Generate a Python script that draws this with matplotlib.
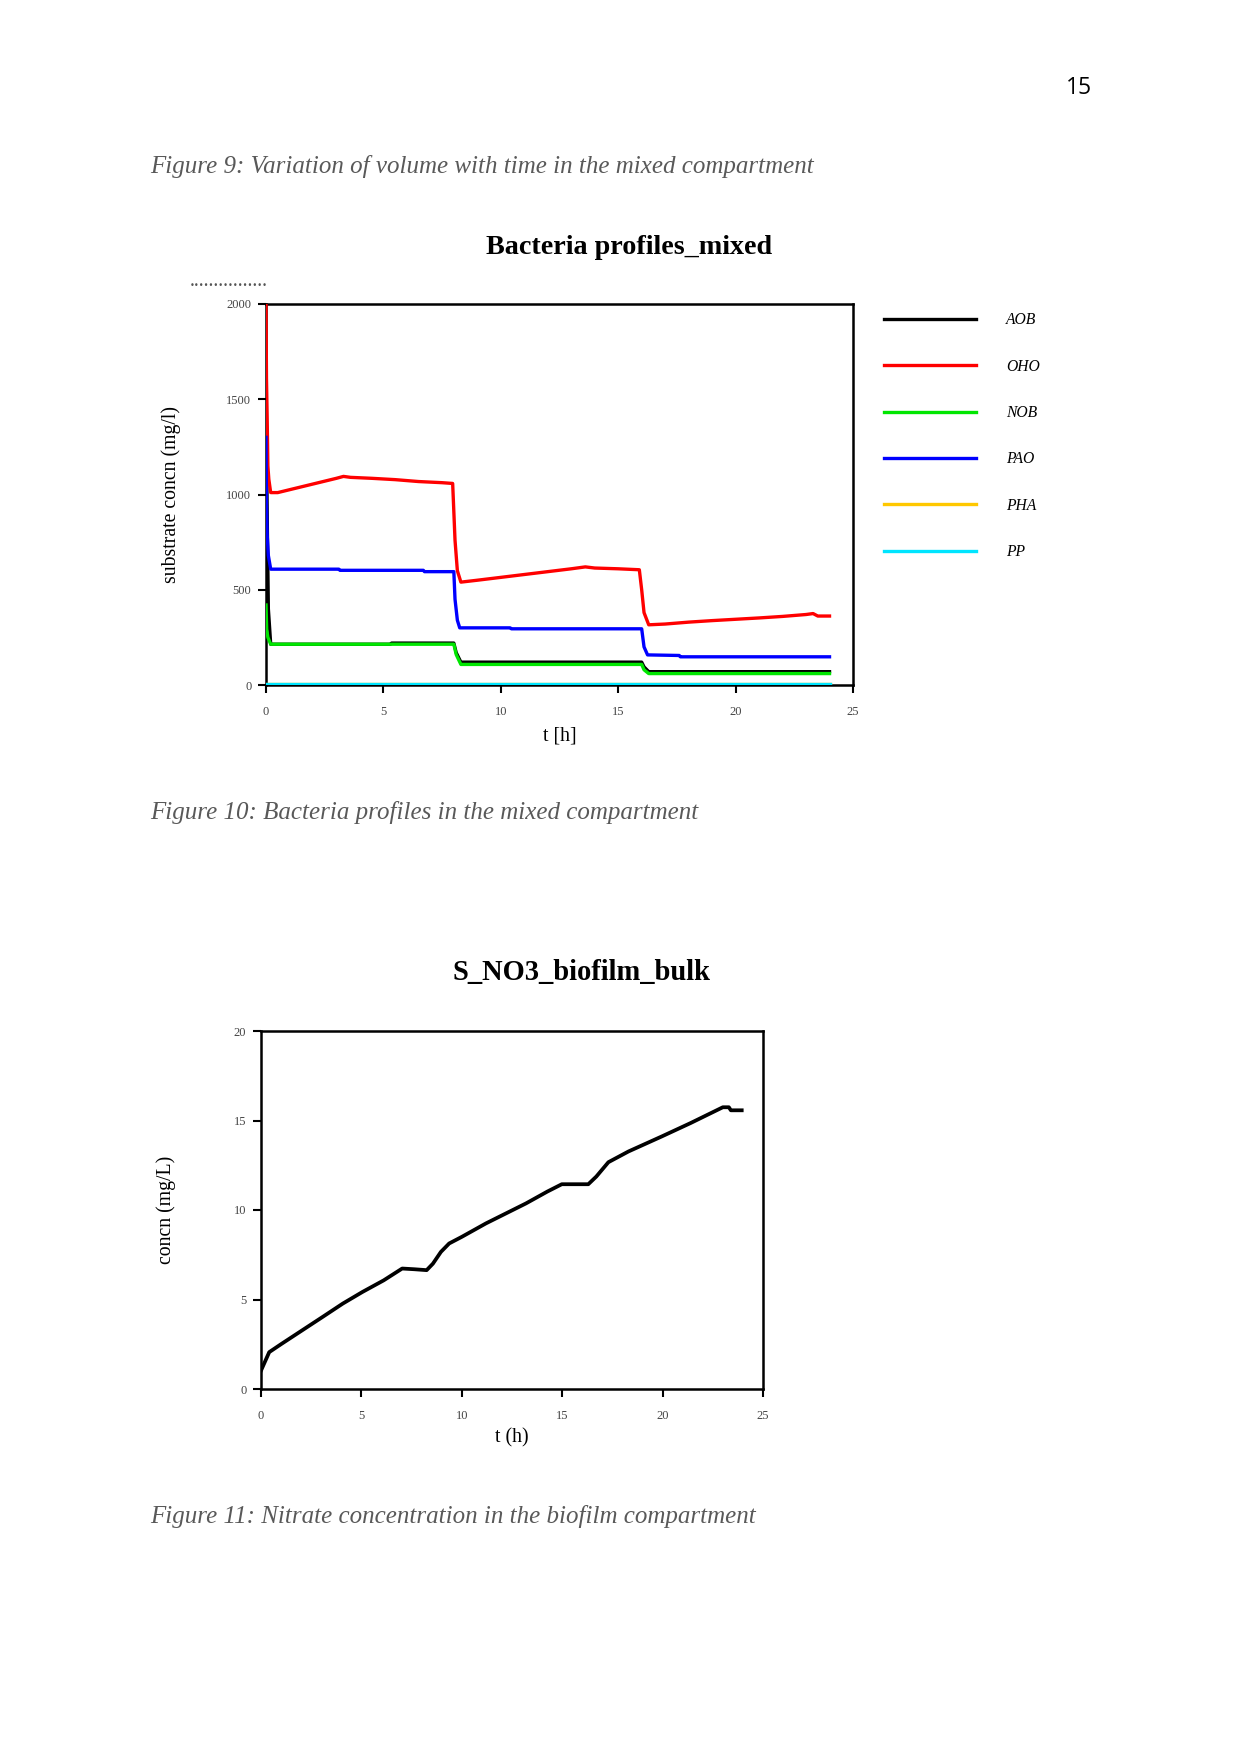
import matplotlib
matplotlib.use("Agg")
import matplotlib.pyplot as plt

plt.rcParams['font.family'] = ['Liberation Serif', 'DejaVu Serif']

# bacteria profiles, mixed compartment (t in h, mg/l)
aob_t = [0, 0.03, 0.06, 0.1, 0.2, 5.3, 5.35, 8.0, 8.1, 8.3, 16.0, 16.1, 16.3, 24.0]
aob_v = [1350, 1150, 800, 400, 214, 214, 220, 220, 170, 120, 120, 95, 70, 70]

oho_t = [0, 0.02, 0.05, 0.08, 0.12, 0.2, 0.5, 1.0, 1.5, 2.0, 2.5, 3.0, 3.3, 3.6, 4.5, 5.5, 6.5,
         7.5, 7.95, 8.05, 8.15, 8.3, 9.0, 10.0, 11.0, 12.0, 13.0, 13.6, 14.0, 15.0, 15.9, 16.0,
         16.1, 16.3, 17.0, 18.0, 19.0, 20.0, 21.0, 22.0, 23.0, 23.3, 23.5, 24.0]
oho_v = [2000, 1610, 1400, 1150, 1080, 1010, 1010, 1025, 1040, 1055, 1070, 1085, 1095, 1090, 1085,
         1078, 1068, 1062, 1058, 760, 600, 540, 550, 565, 580, 595, 610, 620, 614, 610, 605, 500,
         380, 316, 320, 330, 338, 345, 352, 360, 370, 375, 362, 362]

nob_t = [0, 0.03, 0.08, 0.2, 8.0, 8.1, 8.3, 16.0, 16.1, 16.3, 24.0]
nob_v = [420, 290, 250, 214, 214, 160, 108, 108, 80, 60, 60]

pao_t = [0, 0.02, 0.05, 0.1, 0.2, 3.1, 3.15, 6.7, 6.75, 8.0, 8.05, 8.15, 8.25, 10.4, 10.45,
         16.0, 16.1, 16.25, 17.6, 17.65, 24.0]
pao_v = [1300, 960, 790, 680, 608, 608, 602, 602, 595, 595, 450, 340, 300, 300, 295,
         295, 200, 158, 155, 148, 148]

pha_t = [0, 24.0]
pha_v = [3, 3]
pp_t = [0, 24.0]
pp_v = [6, 6]

# nitrate in biofilm bulk (t in h, mg/L)
no3_t = [0, 0.41, 1.02, 2.04, 3.06, 4.07, 5.05, 6.11, 7.03, 7.64, 8.25, 8.56, 8.96, 9.37, 10.0,
         11.2, 12.2, 13.2, 14.26, 14.98, 16.3, 16.7, 17.3, 18.3, 19.96, 21.4, 23.0, 23.3, 23.4, 23.94]
no3_v = [1.03, 2.06, 2.52, 3.27, 4.02, 4.77, 5.42, 6.07, 6.73, 6.69, 6.64, 7.0, 7.66, 8.13, 8.5,
         9.25, 9.81, 10.37, 11.03, 11.44, 11.44, 11.87, 12.67, 13.27, 14.11, 14.86, 15.74, 15.74,
         15.57, 15.57]

W, H = 1241, 1754
fig = plt.figure(figsize=(W / 150, H / 150), dpi=150)


def box(l, t, r, b):
    return [l / W, 1 - b / H, (r - l) / W, (b - t) / H]


def style(ax):
    for s in ax.spines.values():
        s.set_linewidth(1.2)
    ax.tick_params(direction='out', length=4, width=1.0, labelsize=6, labelcolor='#444444')
    ax.tick_params(axis='x', pad=6)
    ax.tick_params(axis='y', pad=3)


cap = dict(fontsize=12, style='italic', color='#595959')
fig.text(1079 / W, 1 - 88 / H, '15', fontsize=11, family=['Open Sans', 'DejaVu Sans'],
         ha='center', va='center')
fig.text(150 / W, 1 - 166 / H, 'Figure 9: Variation of volume with time in the mixed compartment',
         va='center', **cap)

# ---- chart 1
ax1 = fig.add_axes(box(266, 304, 853, 685))
ax1.plot(aob_t, aob_v, color='black', lw=1.6, label='AOB', zorder=3)
ax1.plot(oho_t, oho_v, color='#ff0000', lw=1.6, label='OHO', zorder=3)
ax1.plot(nob_t, nob_v, color='#00e600', lw=1.6, label='NOB', zorder=3)
ax1.plot(pao_t, pao_v, color='#0000ff', lw=1.6, label='PAO', zorder=3)
ax1.plot(pha_t, pha_v, color='#ffc800', lw=1.6, label='PHA', zorder=3)
ax1.plot(pp_t, pp_v, color='#00e5ff', lw=1.6, label='PP', zorder=3)
ax1.set_xlim(0, 25)
ax1.set_ylim(0, 2000)
ax1.set_xticks([0, 5, 10, 15, 20, 25])
ax1.set_yticks([0, 500, 1000, 1500, 2000])
style(ax1)
ax1.set_xlabel('t [h]', fontsize=9.5, labelpad=4)
ax1.set_ylabel('substrate concn (mg/l)', fontsize=9.5, labelpad=22)
fig.text(629 / W, 1 - 248 / H, 'Bacteria profiles_mixed', fontsize=13.5, weight='bold',
         ha='center', va='center')
fig.text(190 / W, 1 - 282 / H, '................', fontsize=9.5, color='#555555', va='center')
fig.legend(handles=ax1.get_lines(), loc='upper left', bbox_to_anchor=(870 / W, 1 - 298 / H),
           frameon=False, handlelength=5.9, handletextpad=1.9, labelspacing=1.95,
           prop=dict(size=7.5, style='italic', family='Liberation Serif'))

fig.text(150 / W, 1 - 813 / H, 'Figure 10: Bacteria profiles in the mixed compartment',
         va='center', **cap)

# ---- chart 2
ax2 = fig.add_axes(box(261, 1031, 763, 1389))
ax2.plot(no3_t, no3_v, color='black', lw=1.8)
ax2.set_xlim(0, 25)
ax2.set_ylim(0, 20)
ax2.set_xticks([0, 5, 10, 15, 20, 25])
ax2.set_yticks([0, 5, 10, 15, 20])
style(ax2)
ax2.set_xlabel('t (h)', fontsize=9.5, labelpad=3)
ax2.set_ylabel('concn (mg/L)', fontsize=9.5, labelpad=28)
fig.text(582 / W, 1 - 973 / H, 'S_NO3_biofilm_bulk', fontsize=13.7, weight='bold',
         ha='center', va='center')

fig.text(150 / W, 1 - 1517 / H, 'Figure 11: Nitrate concentration in the biofilm compartment',
         va='center', **cap)

fig.savefig('out.png', dpi=150)
